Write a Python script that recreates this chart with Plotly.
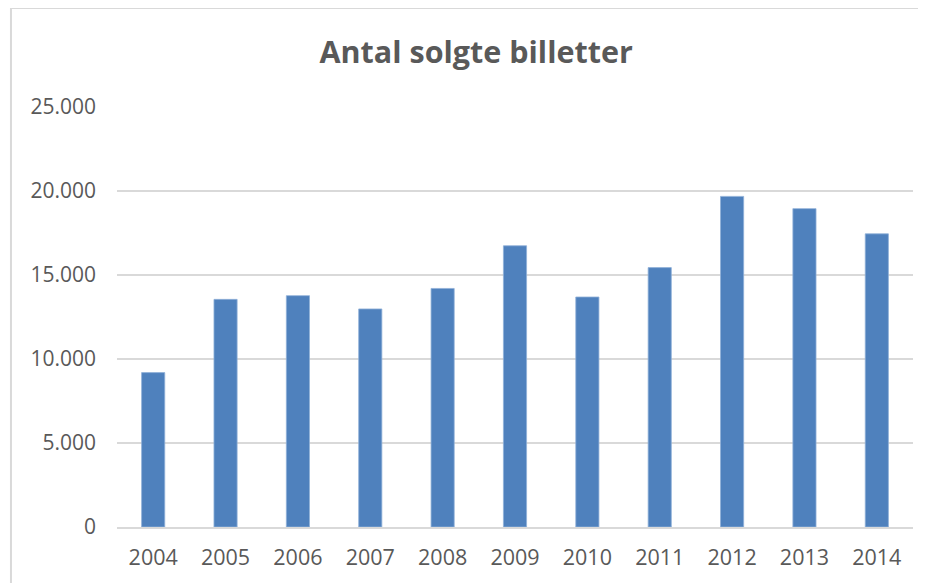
import plotly.graph_objects as go

years = ["2004", "2005", "2006", "2007", "2008", "2009", "2010", "2011", "2012", "2013", "2014"]
tickets = [9190, 13550, 13770, 12980, 14200, 16740, 13690, 15440, 19680, 18950, 17450]
y_ticks = [0, 5000, 10000, 15000, 20000, 25000]
y_labels = ["0", "5.000", "10.000", "15.000", "20.000", "25.000"]

grey = "#595959"
grid = "#d9d9d9"

fig = go.Figure(go.Bar(
    x=years, y=tickets,
    marker=dict(color="#4f81bd", line=dict(color="#8fb0d8", width=0.8)),
    width=0.32,
))

fig.update_layout(
    width=918, height=575,
    margin=dict(l=109, r=13, t=99, b=56),
    paper_bgcolor="white", plot_bgcolor="white",
    showlegend=False,
    title=dict(text="<b>Antal solgte billetter</b>", x=0.51, xanchor="center",
               y=0.9235, yanchor="middle",
               font=dict(family="Open Sans", size=30.5, color=grey)),
    font=dict(family="Open Sans", color=grey),
)
fig.update_xaxes(
    type="category", showgrid=False, showline=True, linecolor=grid, linewidth=2,
    ticks="", tickfont=dict(size=21.5, color=grey), ticklabelstandoff=10,
)
fig.update_yaxes(
    range=[0, 25000], tickvals=y_ticks, ticktext=y_labels,
    showgrid=True, gridcolor=grid, gridwidth=1.5, zeroline=False,
    showline=False, ticks="", tickfont=dict(size=21, color=grey),
    ticklabelstandoff=20,
)
# chart frame (cropped on right and bottom)
fig.add_shape(type="line", xref="paper", yref="paper",
              x0=-0.1332, x1=-0.1332, y0=1.2357, y1=-0.3,
              line=dict(color=grid, width=2))
fig.add_shape(type="line", xref="paper", yref="paper",
              x0=-0.1332, x1=1.2, y0=1.2357, y1=1.2357,
              line=dict(color=grid, width=2))

fig.write_html("out.html")
